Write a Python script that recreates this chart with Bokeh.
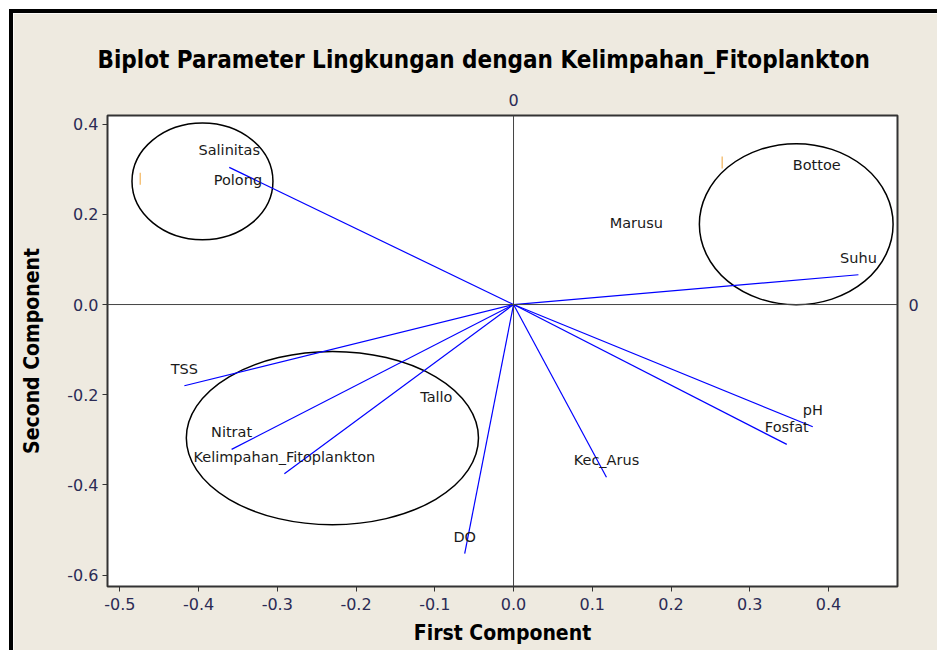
from bokeh.plotting import figure
from bokeh.models import LinearAxis, FixedTicker, Range1d, Span, ColumnDataSource
from bokeh.embed import file_html
from bokeh.resources import INLINE
from bokeh.core.properties import value

# ---- data ----
variables = ["Salinitas", "Suhu", "TSS", "Nitrat", "Kelimpahan_Fitoplankton",
             "DO", "Kec_Arus", "pH", "Fosfat"]
var_pc1 = [-0.361, 0.438, -0.418, -0.358, -0.291, -0.062, 0.118, 0.380, 0.347]
var_pc2 = [0.304, 0.066, -0.180, -0.321, -0.375, -0.552, -0.383, -0.271, -0.310]

stations = ["Polong", "Bottoe", "Marusu", "Tallo"]
st_pc1 = [-0.350, 0.385, 0.156, -0.098]
st_pc2 = [0.275, 0.310, 0.180, -0.204]

mark_pc1 = [-0.474, 0.265]
mark_pc2 = [0.279, 0.315]

group_x = [-0.395, 0.359, -0.230]
group_y = [0.273, 0.178, -0.296]
group_w = [0.179, 0.246, 0.371]
group_h = [0.259, 0.357, 0.384]

x_ticks = [-0.5, -0.4, -0.3, -0.2, -0.1, 0.0, 0.1, 0.2, 0.3, 0.4]
y_ticks = [-0.6, -0.4, -0.2, 0.0, 0.2, 0.4]

BG = "#EEEAE0"
TICK_COLOR = "#2b2b55"
FONT = "DejaVu Sans"
BOLD_FONT = "DejaVu Sans Condensed"

p = figure(width=928, height=641, output_backend="svg", toolbar_location=None,
           x_range=Range1d(-0.5156, 0.4876), y_range=Range1d(-0.625, 0.419),
           min_border_left=94, min_border_right=44, min_border_top=102, min_border_bottom=68,
           styles={"margin-left": "9px", "margin-top": "9px",
                   "border-left": "4px solid black", "border-top": "4px solid black"})
p.background_fill_color = "white"
p.border_fill_color = BG
p.outline_line_color = "#333333"
p.outline_line_width = 2
p.grid.visible = False

p.title.text = "Biplot Parameter Lingkungan dengan Kelimpahan_Fitoplankton"
p.title.align = "left"
p.title.offset = -10
p.title.text_font = BOLD_FONT
p.title.text_font_style = "bold"
p.title.text_font_size = "24px"
p.title.text_color = "black"
p.title.standoff = 33

for ax in (p.xaxis[0], p.yaxis[0]):
    ax.major_label_text_font = FONT
    ax.major_label_text_font_size = "16px"
    ax.major_label_text_color = TICK_COLOR
    ax.axis_label_text_font = BOLD_FONT
    ax.axis_label_text_font_style = "bold"
    ax.axis_label_text_font_size = "21px"
    ax.axis_label_text_color = "black"
    ax.major_tick_out = 5
    ax.major_tick_in = 0
    ax.minor_tick_line_color = None
    ax.major_tick_line_color = "#333333"
    ax.axis_line_color = "#333333"

p.xaxis.ticker = FixedTicker(ticks=x_ticks)
p.yaxis.ticker = FixedTicker(ticks=y_ticks)
p.xaxis.major_label_overrides = {t: f"{t:.1f}" for t in x_ticks}
p.yaxis.major_label_overrides = {t: f"{t:.1f}" for t in y_ticks}
p.xaxis.axis_label = "First Component"
p.yaxis.axis_label = "Second Component"
p.xaxis.major_label_standoff = 6
p.yaxis.major_label_standoff = 4
p.xaxis.axis_label_standoff = 8
p.yaxis.axis_label_standoff = 20

# secondary "0" axes for the reference lines
top_ax = LinearAxis(ticker=FixedTicker(ticks=[0]), major_label_overrides={0: "0"})
right_ax = LinearAxis(ticker=FixedTicker(ticks=[0]), major_label_overrides={0: "0"})
for ax in (top_ax, right_ax):
    ax.axis_line_color = None
    ax.major_tick_line_color = None
    ax.minor_tick_line_color = None
    ax.major_label_text_font = FONT
    ax.major_label_text_font_size = "16px"
    ax.major_label_text_color = TICK_COLOR
top_ax.major_label_standoff = 4
right_ax.major_label_standoff = 5
p.add_layout(top_ax, "above")
p.add_layout(right_ax, "right")

p.add_layout(Span(location=0, dimension="height", line_color="#444444", line_width=1))
p.add_layout(Span(location=0, dimension="width", line_color="#444444", line_width=1))

# group ellipses
p.ellipse(x=group_x, y=group_y, width=group_w, height=group_h,
          fill_color=None, line_color="black", line_width=1.5)

# loading vectors
vsrc = ColumnDataSource(dict(x1=var_pc1, y1=var_pc2, name=variables,
                             x0=[0.0] * len(variables), y0=[0.0] * len(variables)))
p.segment(x0="x0", y0="y0", x1="x1", y1="y1", source=vsrc, line_color="blue", line_width=1.2)
p.text(x="x1", y="y1", text="name", source=vsrc, text_align="center", text_baseline="bottom",
       y_offset=-9, text_font=value(FONT), text_font_size="14.5px", text_color="#1a1a1a")

# observation labels
ssrc = ColumnDataSource(dict(x=st_pc1, y=st_pc2, name=stations))
p.text(x="x", y="y", text="name", source=ssrc, text_align="center", text_baseline="middle",
       text_font=value(FONT), text_font_size="14.5px", text_color="#1a1a1a")

p.scatter(x=mark_pc1, y=mark_pc2, marker="dash", angle=1.5708, size=12,
          line_color="#F5C27A", line_width=1.5)

open("out.html", "w").write(file_html(p, INLINE))
